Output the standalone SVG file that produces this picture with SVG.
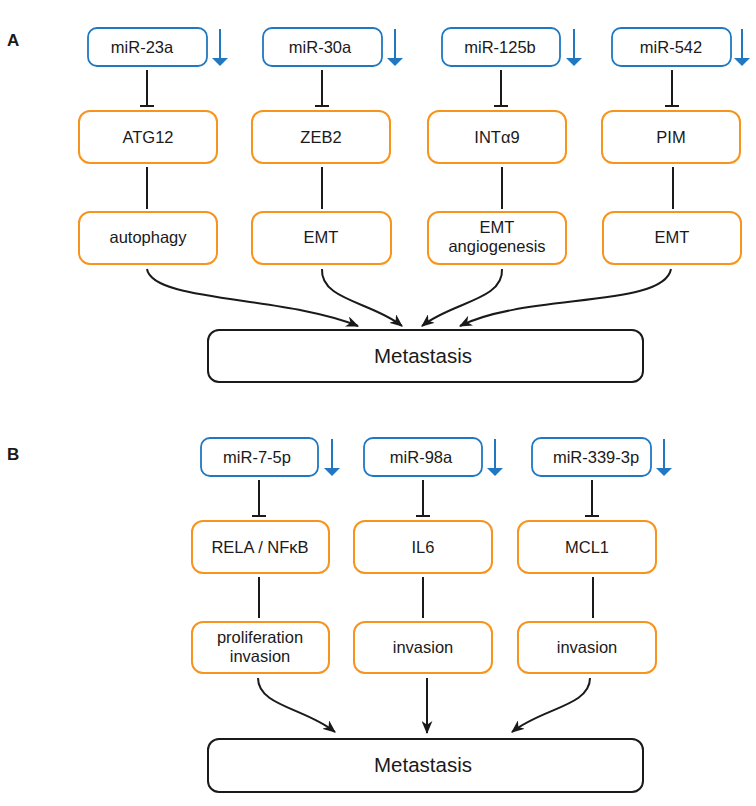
<svg xmlns="http://www.w3.org/2000/svg" width="756" height="806" viewBox="0 0 756 806">
<style>
text{font-family:"Liberation Sans",Arial,sans-serif;fill:#1a1a1a;text-anchor:middle}
.t{font-size:16.5px}
.big{font-size:20.5px}
.lbl{font-size:17px;font-weight:bold;text-anchor:start}
.mir{fill:#fff;stroke:#1f78c1;stroke-width:1.8}
.gene{fill:#fff;stroke:#f7941d;stroke-width:2}
.meta{fill:#fff;stroke:#1a1a1a;stroke-width:2}
.ln{stroke:#1a1a1a;stroke-width:2;fill:none}
.down{stroke:#1f78c1;stroke-width:2;fill:none}
.tri{fill:#1f78c1}
</style>
<defs>
<marker id="ah" markerUnits="userSpaceOnUse" viewBox="0 0 12 10" markerWidth="13" markerHeight="11" refX="11" refY="5" orient="auto">
<path d="M0,0 L12,5 L0,10 L3.5,5 z" fill="#1a1a1a"/>
</marker>
</defs>
<text class="lbl" x="7" y="46">A</text>
<text class="lbl" x="7" y="460">B</text>

<!-- Panel A -->
<g id="mir23a"><rect class="mir" x="88" y="28" width="119" height="38" rx="9"/><text class="t" x="142" y="53">miR-23a</text><line class="down" x1="220" y1="29" x2="220" y2="59"/><path class="tri" d="M212,58 L228,58 L220,66 z"/></g>
<g id="mir30a"><rect class="mir" x="263" y="28" width="119" height="38" rx="9"/><text class="t" x="320" y="53">miR-30a</text><line class="down" x1="395" y1="29" x2="395" y2="59"/><path class="tri" d="M387,58 L403,58 L395,66 z"/></g>
<g id="mir125b"><rect class="mir" x="442" y="28" width="118" height="38" rx="9"/><text class="t" x="500" y="53">miR-125b</text><line class="down" x1="574" y1="29" x2="574" y2="59"/><path class="tri" d="M566,58 L582,58 L574,66 z"/></g>
<g id="mir542"><rect class="mir" x="612" y="28" width="119" height="38" rx="9"/><text class="t" x="671" y="53">miR-542</text><line class="down" x1="742" y1="29" x2="742" y2="59"/><path class="tri" d="M734,58 L750,58 L742,66 z"/></g>

<g id="atg12"><rect class="gene" x="79" y="111" width="138" height="52" rx="11"/><text class="t" x="148" y="143">ATG12</text></g>
<g id="zeb2"><rect class="gene" x="252" y="111" width="138" height="52" rx="11"/><text class="t" x="321" y="143">ZEB2</text></g>
<g id="inta9"><rect class="gene" x="428" y="111" width="138" height="52" rx="11"/><text class="t" x="497" y="143">INTα9</text></g>
<g id="pim"><rect class="gene" x="602" y="111" width="138" height="52" rx="11"/><text class="t" x="671" y="143">PIM</text></g>

<g id="autophagy"><rect class="gene" x="79" y="212" width="138" height="52" rx="11"/><text class="t" x="148" y="243">autophagy</text></g>
<g id="emt1"><rect class="gene" x="252" y="212" width="139" height="52" rx="11"/><text class="t" x="321" y="243">EMT</text></g>
<g id="emtang"><rect class="gene" x="428" y="212" width="138" height="52" rx="11"/><text class="t" x="497" y="233">EMT</text><text class="t" x="497" y="252">angiogenesis</text></g>
<g id="emt2"><rect class="gene" x="603" y="212" width="138" height="52" rx="11"/><text class="t" x="672" y="243">EMT</text></g>

<g id="metaA"><rect class="meta" x="208" y="330" width="435" height="52" rx="11"/><text class="big" x="423" y="363">Metastasis</text></g>

<!-- Panel B -->
<g id="mir75p"><rect class="mir" x="201" y="438" width="117" height="38" rx="9"/><text class="t" x="257" y="463">miR-7-5p</text><line class="down" x1="332" y1="439" x2="332" y2="469"/><path class="tri" d="M324,468 L340,468 L332,476 z"/></g>
<g id="mir98a"><rect class="mir" x="364" y="438" width="118" height="38" rx="9"/><text class="t" x="421" y="463">miR-98a</text><line class="down" x1="495" y1="439" x2="495" y2="469"/><path class="tri" d="M487,468 L503,468 L495,476 z"/></g>
<g id="mir3393p"><rect class="mir" x="532" y="438" width="119" height="38" rx="9"/><text class="t" x="596" y="463">miR-339-3p</text><line class="down" x1="664" y1="439" x2="664" y2="469"/><path class="tri" d="M656,468 L672,468 L664,476 z"/></g>

<g id="rela"><rect class="gene" x="192" y="521" width="137" height="52" rx="11"/><text class="t" x="260" y="553">RELA / NFκB</text></g>
<g id="il6"><rect class="gene" x="354" y="521" width="138" height="52" rx="11"/><text class="t" x="423" y="553">IL6</text></g>
<g id="mcl1"><rect class="gene" x="518" y="521" width="138" height="52" rx="11"/><text class="t" x="587" y="553">MCL1</text></g>

<g id="prolif"><rect class="gene" x="192" y="622" width="137" height="51" rx="11"/><text class="t" x="260" y="643">proliferation</text><text class="t" x="260" y="662">invasion</text></g>
<g id="inv1"><rect class="gene" x="354" y="622" width="138" height="51" rx="11"/><text class="t" x="423" y="653">invasion</text></g>
<g id="inv2"><rect class="gene" x="518" y="622" width="138" height="51" rx="11"/><text class="t" x="587" y="653">invasion</text></g>

<g id="metaB"><rect class="meta" x="208" y="739" width="435" height="53" rx="11"/><text class="big" x="423" y="772">Metastasis</text></g>

<g id="connectors">
<!-- A inhibitions -->
<path class="ln" d="M147,70 V106 M140,106 H154"/>
<path class="ln" d="M322,70 V106 M315,106 H329"/>
<path class="ln" d="M501,70 V106 M494,106 H508"/>
<path class="ln" d="M672,70 V106 M665,106 H679"/>
<!-- A links -->
<path class="ln" d="M147,167 V209"/>
<path class="ln" d="M322,167 V209"/>
<path class="ln" d="M502,167 V209"/>
<path class="ln" d="M673,167 V209"/>
<!-- A arrows -->
<path class="ln" marker-end="url(#ah)" d="M147,269 C152,302 285,296 358,326"/>
<path class="ln" marker-end="url(#ah)" d="M322,269 C320,300 372,302 402,326"/>
<path class="ln" marker-end="url(#ah)" d="M502,269 C504,300 452,302 422,326"/>
<path class="ln" marker-end="url(#ah)" d="M671,269 C664,308 525,293 460,326"/>
<!-- B inhibitions -->
<path class="ln" d="M259,480 V516 M252,516 H266"/>
<path class="ln" d="M423,480 V516 M416,516 H430"/>
<path class="ln" d="M592,480 V516 M585,516 H599"/>
<!-- B links -->
<path class="ln" d="M259,577 V618"/>
<path class="ln" d="M423,577 V618"/>
<path class="ln" d="M593,577 V618"/>
<!-- B arrows -->
<path class="ln" marker-end="url(#ah)" d="M258,678 C258,706 305,708 335,732"/>
<path class="ln" marker-end="url(#ah)" d="M427,678 V733"/>
<path class="ln" marker-end="url(#ah)" d="M590,678 C590,706 542,708 512,732"/>
</g>
</svg>
